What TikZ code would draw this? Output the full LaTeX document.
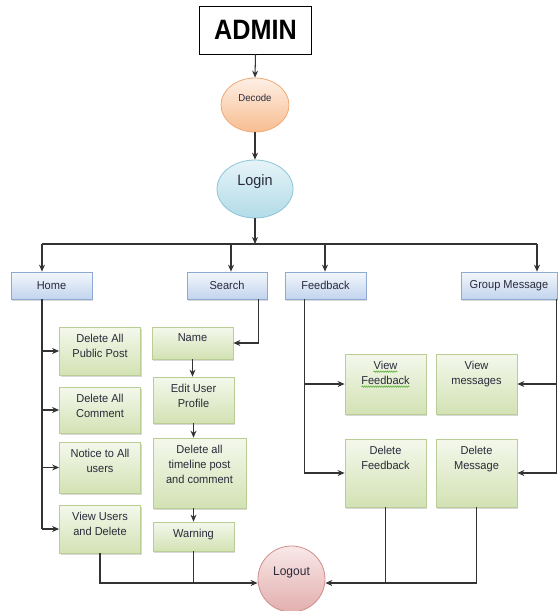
\documentclass[tikz,border=0pt]{standalone}
\usepackage{fontspec}
\setmainfont[FakeStretch=0.96]{Liberation Sans}
\newfontfamily\admfont[FakeStretch=0.9]{Liberation Sans}
\usetikzlibrary{arrows.meta,shapes.geometric,shadows,calc,decorations.pathmorphing}
\definecolor{gtop}{HTML}{F4F8EC}
\definecolor{gbot}{HTML}{D3E2B4}
\definecolor{gborder}{HTML}{B9CD94}
\definecolor{btop}{HTML}{F3F7FC}
\definecolor{bbot}{HTML}{C2D4EE}
\definecolor{bborder}{HTML}{8EAAD2}
\definecolor{dtop}{HTML}{FDEFE5}
\definecolor{dbot}{HTML}{F8BD90}
\definecolor{dborder}{HTML}{F0A874}
\definecolor{ltop}{HTML}{E6F4F8}
\definecolor{lbot}{HTML}{B2DBE8}
\definecolor{lborder}{HTML}{8CC5D8}
\definecolor{otop}{HTML}{F9E8E8}
\definecolor{obot}{HTML}{E2AFAE}
\definecolor{oborder}{HTML}{CF8E8C}
\definecolor{txtc}{HTML}{2A2A3A}
\definecolor{linec}{HTML}{333333}
\definecolor{squig}{HTML}{5FAF3F}
\newcommand\btxt{\fontsize{11.5}{15}\selectfont}
\begin{document}
\begin{tikzpicture}[x=1pt,y=-1pt,
  shd/.style={drop shadow={shadow xshift=1.2pt,shadow yshift=-1.6pt,opacity=0.3}},
  gbox/.style={draw=gborder,line width=0.8pt,top color=gtop,bottom color=gbot,
    minimum width=81pt,inner sep=0pt,shd},
  bbox/.style={draw=bborder,line width=0.8pt,top color=btop,bottom color=bbot,
    minimum height=27pt,inner sep=0pt,font=\btxt,text=txtc,shd},
  tlabel/.style={anchor=north,yshift=-7pt,inner sep=0pt,align=center,font=\btxt,text=txtc},
  elabel/.style={anchor=center,yshift=7pt,inner sep=0pt,text=txtc},
  arr/.style={draw=linec,line width=1.05pt,-{Stealth[length=7pt,width=6pt]}},
  ln/.style={draw=linec,line width=1.05pt},
  wavy/.style={draw=squig,line width=0.6pt,decorate,decoration={snake,amplitude=0.7pt,segment length=2.2pt}}]
\useasboundingbox (0,0) rectangle (559,611);

% top
\node[draw=black,line width=0.9pt,minimum width=112pt,minimum height=48pt,inner sep=0pt,
  font=\admfont\fontsize{28}{28}\selectfont\bfseries] (admin) at (255.5,30) {ADMIN};
\node[ellipse,draw=dborder,line width=0.8pt,top color=dtop,bottom color=dbot,
  minimum width=68pt,minimum height=54pt,inner sep=0pt,
  label={[elabel,font=\fontsize{10}{12}\selectfont]center:Decode}] (decode) at (255,105) {};
\node[ellipse,draw=lborder,line width=0.8pt,top color=ltop,bottom color=lbot,
  minimum width=76pt,minimum height=58pt,inner sep=0pt,
  label={[elabel,font=\fontsize{15}{17}\selectfont]center:Login}] (login) at (255,189) {};

% second row
\node[bbox,minimum width=81pt] (home) at (51.5,285.5) {Home};
\node[bbox,minimum width=80pt] (search) at (227,285.5) {Search};
\node[bbox,minimum width=81pt] (feedback) at (325.5,285.5) {Feedback};
\node[bbox,minimum width=96pt] (group) at (509,285.5) {Group Message};

% home column
\node[gbox,minimum height=48pt,label={[tlabel]north:Delete All\\Public Post}] (dapp) at (100,351) {};
\node[gbox,minimum height=46pt,label={[tlabel]north:Delete All\\Comment}] (dac) at (100,410) {};
\node[gbox,minimum height=51pt,label={[tlabel]north:Notice to All\\users}] (notice) at (100,467.5) {};
\node[gbox,minimum height=48pt,label={[tlabel]north:View Users\\and Delete}] (viewu) at (100,529) {};

% search column
\node[gbox,minimum height=32pt,label={[tlabel]north:Name}] (name) at (192.5,343) {};
\node[gbox,minimum height=46pt,label={[tlabel]north:Edit User\\Profile}] (edit) at (193.5,400) {};
\node[gbox,minimum width=93pt,minimum height=70pt,label={[tlabel]north:Delete all\\timeline post\\and comment}] (dtl) at (199.5,473) {};
\node[gbox,minimum height=29pt,label={[tlabel]north:Warning}] (warn) at (193.5,536.5) {};

% feedback / message columns
\node[gbox,minimum height=60pt,label={[tlabel,name=vfbt]north:View\\Feedback}] (vfb) at (385.5,384) {};
\node[gbox,minimum height=68pt,label={[tlabel]north:Delete\\Feedback}] (dfb) at (385.5,473) {};
\node[gbox,minimum height=60pt,label={[tlabel]north:View\\messages}] (vmsg) at (476.5,384) {};
\node[gbox,minimum height=68pt,label={[tlabel]north:Delete\\Message}] (dmsg) at (476.5,473) {};

% spell-check underlines
\draw[wavy] ([xshift=-12pt,yshift=-11pt]vfbt.north) -- ([xshift=12pt,yshift=-11pt]vfbt.north);
\draw[wavy] ([xshift=-24pt,yshift=-26pt]vfbt.north) -- ([xshift=24pt,yshift=-26pt]vfbt.north);

% logout
\node[ellipse,draw=oborder,line width=0.8pt,top color=otop,bottom color=obot,
  minimum width=67pt,minimum height=66pt,inner sep=0pt,
  label={[elabel,font=\fontsize{12.5}{14}\selectfont]center:Logout}] (logout) at (291.5,579) {};

% connectors top
\draw[arr] (admin.south) -- (decode.north);
\draw[arr] (decode.south) -- (login.north);
\coordinate (busL) at (42,244);
\coordinate (busS) at (231,244);
\coordinate (busF) at (325,244);
\coordinate (busR) at (537,244);
\draw[ln] (busL) -- (busR);
\draw[arr] (login.south) -- (login.south |- busL);
\draw[arr] (busL) -- (busL |- home.north);
\draw[arr] (busS) -- (busS |- search.north);
\draw[arr] (busF) -- (busF |- feedback.north);
\draw[arr] (busR) -- (busR |- group.north);

% home trunk
\draw[ln] (busL |- home.south) -- (busL |- viewu.west);
\draw[arr] (busL |- dapp.west) -- (dapp.west);
\draw[arr] (busL |- dac.west) -- (dac.west);
\draw[arr] (busL |- notice.west) -- (notice.west);
\draw[arr] (busL |- viewu.west) -- (viewu.west);

% search chain
\draw[arr] ([xshift=-9pt]search.south east) |- (name.east);
\draw[arr] (name.south) -- (name.south |- edit.north);
\draw[arr] (edit.south) -- (edit.south |- dtl.north);
\draw[arr] (warn.north |- dtl.south) -- (warn.north);

% feedback trunk
\coordinate (fTop) at ([xshift=20pt]feedback.south west);
\draw[arr] (fTop) |- (dfb.west);
\draw[arr] (fTop |- vfb.west) -- (vfb.west);

% group trunk
\coordinate (gTop) at ([xshift=-1pt]group.south east);
\draw[arr] (gTop) |- (dmsg.east);
\draw[arr] (gTop |- vmsg.east) -- (vmsg.east);

% to logout
\coordinate (lL) at ([yshift=-4pt]logout.west);
\coordinate (lR) at ([yshift=-4pt]logout.east);
\draw[arr] (viewu.south) |- (lL);
\draw[ln] (warn.south) -- (warn.south |- lL);
\draw[arr] (dmsg.south) |- (lR);
\draw[ln] (dfb.south) -- (dfb.south |- lR);
\end{tikzpicture}
\end{document}
